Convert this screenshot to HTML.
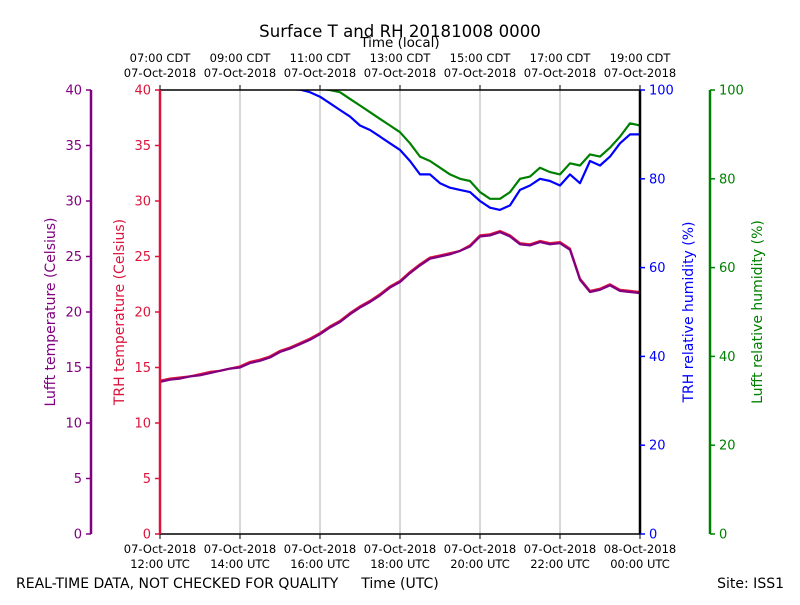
<!DOCTYPE html>
<html><head><meta charset="utf-8"><style>
body{margin:0;background:#fff}
svg{font-family:"DejaVu Sans","Liberation Sans",sans-serif}
</style></head><body>
<svg id="c" width="800" height="600" viewBox="0 0 800 600">
<defs><clipPath id="clip"><rect x="160" y="90" width="480" height="444"/></clipPath></defs>
<rect width="800" height="600" fill="#fff"/>
<g id="grid"></g>
<g id="series" clip-path="url(#clip)"></g>
<g id="axes"></g>
<text x="400" y="37" font-size="16.6" text-anchor="middle">Surface T and RH 20181008 0000</text>
<text x="400" y="47" font-size="13.5" text-anchor="middle">Time (local)</text>
<text x="16" y="588" font-size="14">REAL-TIME DATA, NOT CHECKED FOR QUALITY</text>
<text x="400" y="588" font-size="14" text-anchor="middle">Time (UTC)</text>
<text x="784" y="588" font-size="14" text-anchor="end">Site: ISS1</text>
<text transform="translate(55,312) rotate(-90)" font-size="14" text-anchor="middle" fill="purple">Lufft temperature (Celsius)</text>
<text transform="translate(124,312) rotate(-90)" font-size="14" text-anchor="middle" fill="#dc143c">TRH temperature (Celsius)</text>
<text transform="translate(693,312) rotate(-90)" font-size="14" text-anchor="middle" fill="blue">TRH relative humidity (%)</text>
<text transform="translate(762,312) rotate(-90)" font-size="14" text-anchor="middle" fill="green">Lufft relative humidity (%)</text>
</svg>
<script>
const hours = [0,0.25,0.5,0.75,1,1.25,1.5,1.75,2,2.25,2.5,2.75,3,3.25,3.5,3.75,4,4.25,4.5,4.75,5,5.25,5.5,5.75,6,6.25,6.5,6.75,7,7.25,7.5,7.75,8,8.25,8.5,8.75,9,9.25,9.5,9.75,10,10.25,10.5,10.75,11,11.25,11.5,11.75,12];
const trhTemp = [13.8,14.0,14.1,14.2,14.4,14.6,14.7,14.9,15.1,15.5,15.7,16.0,16.5,16.8,17.2,17.6,18.1,18.7,19.2,19.9,20.5,21.0,21.6,22.3,22.8,23.6,24.3,24.9,25.1,25.3,25.5,26.0,26.9,27.0,27.3,26.9,26.2,26.1,26.4,26.2,26.3,25.7,23.0,21.9,22.1,22.5,22.0,21.9,21.8];
const lufftTemp = [13.7,13.9,14.0,14.2,14.3,14.5,14.7,14.9,15.0,15.4,15.6,15.9,16.4,16.7,17.1,17.5,18.0,18.6,19.1,19.8,20.4,20.9,21.5,22.2,22.7,23.5,24.2,24.8,25.0,25.2,25.5,25.9,26.8,26.9,27.2,26.8,26.1,26.0,26.3,26.1,26.2,25.6,22.9,21.8,22.0,22.4,21.9,21.8,21.7];
const trhRH = [110,109,108,107,106,105,104,103,102,102,101,101,100.5,100.2,100.1,99.5,98.5,97,95.5,94,92,91,89.5,88,86.5,84,81,81,79,78,77.5,77,75,73.5,73,74,77.5,78.5,80,79.5,78.5,81,79,84,83,85,88,90,90];
const lufftRH = [112,111,110,109,108,107,106,105,104,103,102.5,102,101.5,101,100.8,100.5,100.3,100,99.5,98,96.5,95,93.5,92,90.5,88,85,84,82.5,81,80,79.5,77,75.5,75.5,77,80,80.5,82.5,81.5,81,83.5,83,85.5,85,87,89.5,92.5,92];
const tempTicks = [0,5,10,15,20,25,30,35,40];
const rhTicks = [0,20,40,60,80,100];
const utcLabels = ["12:00 UTC","14:00 UTC","16:00 UTC","18:00 UTC","20:00 UTC","22:00 UTC","00:00 UTC"];
const utcDates = ["07-Oct-2018","07-Oct-2018","07-Oct-2018","07-Oct-2018","07-Oct-2018","07-Oct-2018","08-Oct-2018"];
const localLabels = ["07:00 CDT","09:00 CDT","11:00 CDT","13:00 CDT","15:00 CDT","17:00 CDT","19:00 CDT"];
const localDates = ["07-Oct-2018","07-Oct-2018","07-Oct-2018","07-Oct-2018","07-Oct-2018","07-Oct-2018","07-Oct-2018"];

const NS="http://www.w3.org/2000/svg";
const X0=160,X1=640,Y0=534,Y1=90;
const xs=h=>X0+(X1-X0)*h/12;
const yT=t=>Y0-(Y0-Y1)*t/40;
const yR=r=>Y0-(Y0-Y1)*r/100;
function mk(tag,attrs,parent,text){const e=document.createElementNS(NS,tag);for(const k in attrs)e.setAttribute(k,attrs[k]);if(text!==undefined)e.textContent=text;document.getElementById(parent).appendChild(e);return e;}

for(let i=1;i<6;i++){
  const g=mk('line',{x1:xs(i*2),x2:xs(i*2),y1:Y1,y2:Y0,stroke:'#b0b0b0','stroke-width':1},'grid');
  
  
}
function line(vals,fy,color,name){
  const d=vals.map((v,i)=>(i?'L':'M')+xs(hours[i]).toFixed(1)+','+fy(v).toFixed(1)).join('');
  const p=mk('path',{d:d,fill:'none',stroke:color,'stroke-width':2.2,'stroke-linejoin':'round'},'series');
  
  
}
line(trhRH,yR,'blue','trh-rh-line');
line(lufftRH,yR,'green','lufft-rh-line');
line(trhTemp,yT,'#dc143c','trh-temp-line');
line(lufftTemp,yT,'purple','lufft-temp-line');

mk('line',{x1:X0,x2:X1,y1:Y1,y2:Y1,stroke:'#000','stroke-width':1.5},'axes');
mk('line',{x1:X0,x2:X1,y1:Y0,y2:Y0,stroke:'#000','stroke-width':1.5},'axes');
mk('line',{x1:X0,x2:X0,y1:Y1,y2:Y0,stroke:'#dc143c','stroke-width':2.5},'axes');
mk('line',{x1:X1,x2:X1,y1:Y1,y2:Y0,stroke:'#000','stroke-width':2.5},'axes');
mk('line',{x1:91,x2:91,y1:Y1,y2:Y0,stroke:'purple','stroke-width':2.5},'axes');
mk('line',{x1:710,x2:710,y1:Y1,y2:Y0,stroke:'green','stroke-width':2.5},'axes');

function yAxis(ticks,fy,sx,dir,color,name){
  ticks.forEach(t=>{
    const y=fy(t);
    mk('line',{x1:sx,x2:sx+dir*5,y1:y,y2:y,stroke:color,'stroke-width':1.5},'axes');
    const tx=mk('text',{x:sx+dir*9,y:y+4.5,'font-size':13,fill:color,'text-anchor':dir<0?'end':'start'},'axes',String(t));
    
    
  });
}
yAxis(tempTicks,yT,91,-1,'purple','lufft-temp');
yAxis(tempTicks,yT,160,-1,'#dc143c','trh-temp');
yAxis(rhTicks,yR,640,1,'blue','trh-rh');
yAxis(rhTicks,yR,710,1,'green','lufft-rh');

utcLabels.forEach((l,i)=>{
  const x=xs(i*2);
  mk('line',{x1:x,x2:x,y1:Y0,y2:Y0+5,stroke:'#000'},'axes');
  const a=mk('text',{x:x,y:553,'font-size':11.5,'text-anchor':'middle'},'axes',utcDates[i]);
  
  
  const b=mk('text',{x:x,y:568,'font-size':11.5,'text-anchor':'middle'},'axes',l);
  
  
  mk('line',{x1:x,x2:x,y1:Y1,y2:Y1-5,stroke:'#000'},'axes');
  const c=mk('text',{x:x,y:62,'font-size':11.5,'text-anchor':'middle'},'axes',localLabels[i]);
  
  
  const d=mk('text',{x:x,y:77,'font-size':11.5,'text-anchor':'middle'},'axes',localDates[i]);
  
  
});
</script>
</body></html>
